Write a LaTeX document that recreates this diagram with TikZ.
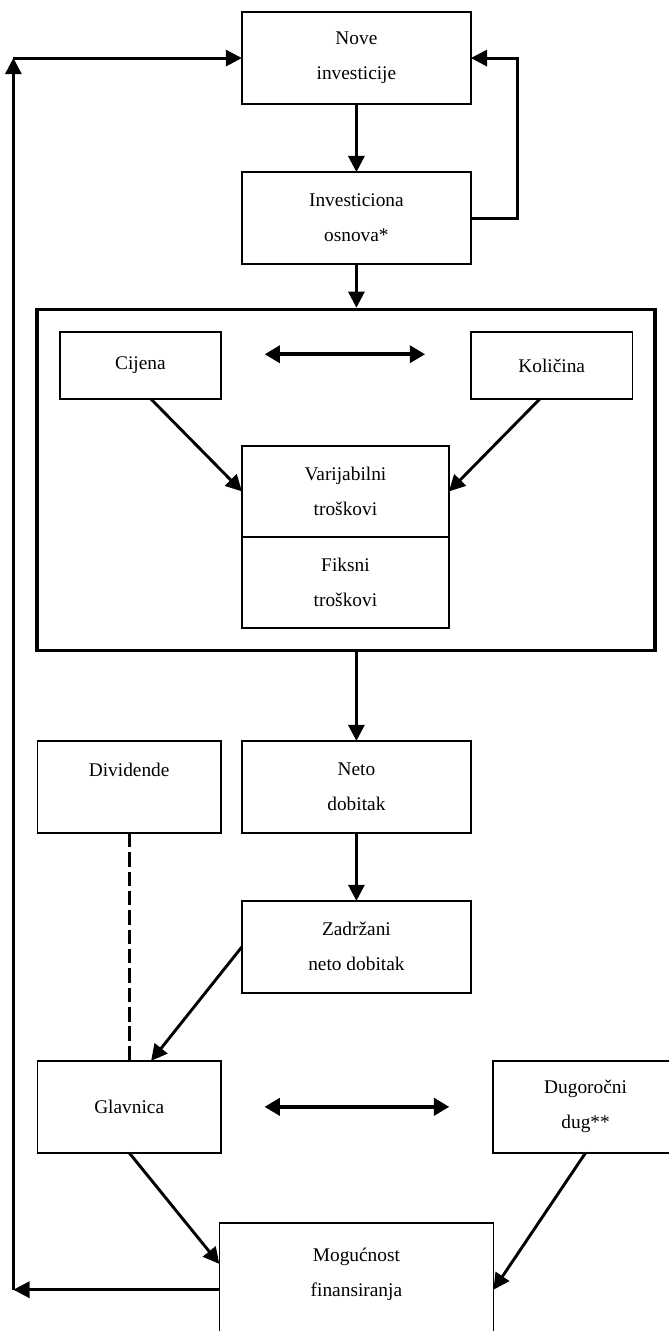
\documentclass[tikz,border=0pt]{standalone}
\usepackage{fontspec}
\setmainfont{Liberation Serif}
\usetikzlibrary{arrows.meta, positioning, fit}
\tikzstyle{arrow} = [line width=1.8pt,-{Triangle[length=10pt,width=10pt]}]
\tikzstyle{dblarrow} = [line width=2.6pt,{Triangle[length=9.5pt,width=10.5pt]}-{Triangle[length=9.5pt,width=10.5pt]}]
\tikzstyle{dashline} = [line width=1.8pt, dash pattern=on 9pt off 3pt]

\begin{document}
\begin{tikzpicture}[node distance=42.2pt,
            box/.style={rectangle, draw=black, line width=1pt, outer sep=0pt, inner sep=0pt, minimum width=142pt, minimum height=57pt, text centered, align=center, font=\fontsize{12pt}{21.7pt}\selectfont}]

            \useasboundingbox (-221pt,36pt) rectangle (193.8pt,-789.3pt);

            % Investicije
            \node[box] (nove) at (0,0) {Nove\\investicije};
            \node[box, below=of nove] (inv) {Investiciona\\osnova*};

            % Poslovanje
            \node[box, minimum width=100pt, minimum height=41.5pt, below=of inv, xshift=-133.9pt] (cij) {Cijena};
            \node[box, minimum width=100pt, minimum height=41.5pt, right=155pt of cij] (kol) {Količina};
            \node[box, minimum width=128.3pt, minimum height=56.4pt, below=112.8pt of inv, xshift=-6.8pt] (var) {Varijabilni\\troškovi};
            \node[box, minimum width=128.3pt, minimum height=56.4pt, below=0pt of var] (fix) {Fiksni\\troškovi};
            \node[draw, line width=2.2pt, inner sep=14pt, fit=(cij)(kol)(fix)] (frame) {};

            % Dobitak
            \node[box, below=295.7pt of inv] (neto) {Neto\\dobitak};
            \node[box, below=of neto] (zad) {Zadržani\\neto dobitak};
            \node[box, minimum width=113.8pt, left=13pt of neto] (div) {Dividende\\~};

            % Finansiranje
            \node[box, minimum width=113.8pt, below=141.4pt of div] (glav) {Glavnica};
            \node[box, minimum width=115pt, right=168.6pt of glav] (dug) {Dugoročni\\dug**};
            \node[box, minimum width=170pt, minimum height=83pt, below=142.6pt of zad] (mog) {Mogućnost\\finansiranja\\~};

            \coordinate (lb) at ([xshift=-127.7pt]mog.west);
            \coordinate (lt) at (lb |- nove.west);

            % Arrows
            \draw[arrow] (nove) -- (inv);
            \draw[arrow] (inv.east) -- ++(29pt,0) |- (nove.east);
            \draw[arrow] (inv.south) -- (inv.south |- frame.north);
            \draw[dblarrow] ([xshift=27pt,yshift=7pt]cij.east) -- ([xshift=-28.5pt,yshift=7pt]kol.west);
            \draw[arrow] ([xshift=6.5pt]cij.south) -- (var.west);
            \draw[arrow] ([xshift=-7.4pt]kol.south) -- (var.east);
            \draw[arrow] (frame.south -| neto.north) -- (neto);
            \draw[arrow] (neto) -- (zad);
            \draw[dashline] (div) -- (glav);
            \draw[arrow] (zad.west) -- ([xshift=13.6pt]glav.north);
            \draw[dblarrow] ([xshift=27pt]glav.east) -- ([xshift=-27pt]dug.west);
            \draw[arrow] (glav.south) -- ([yshift=16pt]mog.west);
            \draw[arrow] (dug.south) -- (mog.east);
            \draw[arrow] (mog.west) -- (lb);
            \draw[arrow] (lb) -- (lt);
            \draw[arrow] (lt) -- (nove.west);
        \end{tikzpicture}
\end{document}
